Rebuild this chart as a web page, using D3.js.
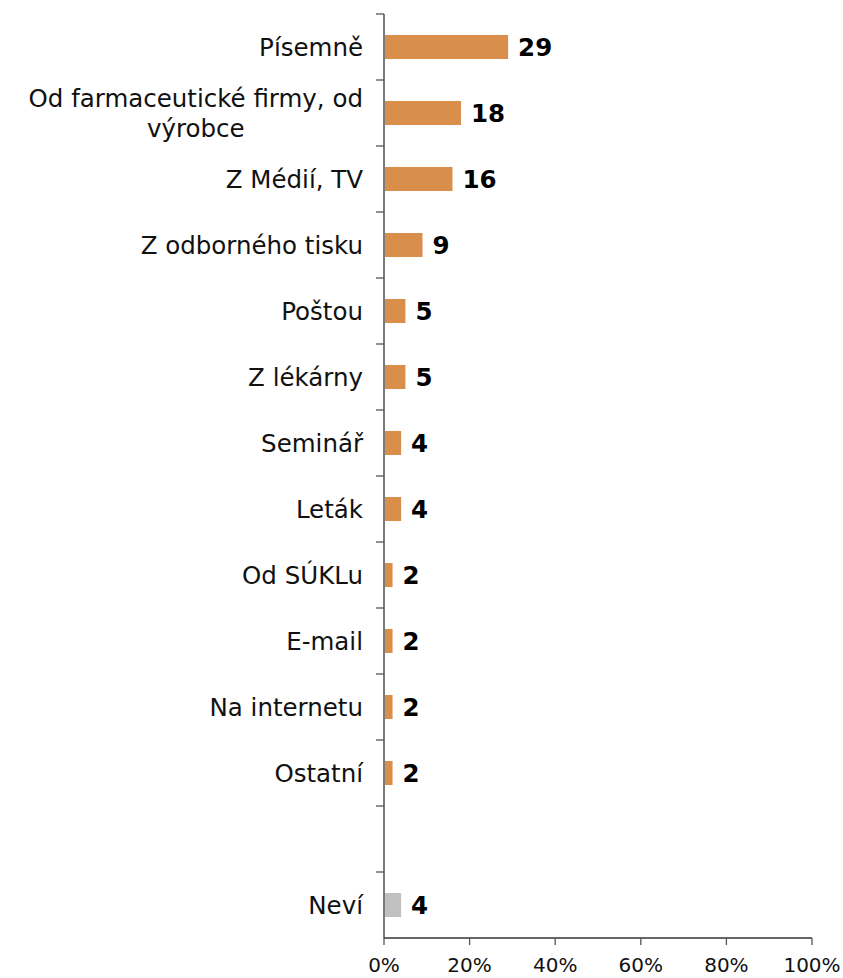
<!DOCTYPE html>
<html>
<head>
<meta charset="utf-8">
<script src="https://cdn.jsdelivr.net/npm/d3@7/dist/d3.min.js"></script>
<style>
  html, body { margin: 0; padding: 0; background: #fff; }
  svg { display: block; font-family: "DejaVu Sans", Verdana, sans-serif; }
</style>
</head>
<body>
<svg id="chart" width="843" height="978"></svg>
<script>
// Sources of information (percent of respondents); the empty slot separates "Neví"
const categories = [
  "Písemně",
  "Od farmaceutické firmy, od|výrobce",
  "Z Médií, TV",
  "Z odborného tisku",
  "Poštou",
  "Z lékárny",
  "Seminář",
  "Leták",
  "Od SÚKLu",
  "E-mail",
  "Na internetu",
  "Ostatní",
  "",
  "Neví"
];
const values = [29, 18, 16, 9, 5, 5, 4, 4, 2, 2, 2, 2, null, 4];
const xTicks = [0, 20, 40, 60, 80, 100];
const tickLabels = ["0%", "20%", "40%", "60%", "80%", "100%"];

const ORANGE = "#D98F4B";
const GREY = "#C0C0C0";

const svg = d3.select("#chart");
const margin = { left: 384, top: 14, right: 31 };
const W = 843;
const innerW = W - margin.left - margin.right;   // 428
const innerH = 938 - margin.top;                 // 924

const slots = categories.map((c, i) => i);
const y = d3.scaleBand().domain(slots).range([0, innerH]).paddingInner(0).paddingOuter(0);
const x = d3.scaleLinear().domain([0, 100]).range([0, innerW]);

const g = svg.append("g").attr("transform", `translate(${margin.left},${margin.top})`);

// bars
const rows = slots.filter(i => values[i] != null);
const barH = 24;
g.selectAll("rect.bar")
  .data(rows)
  .join("rect")
  .attr("class", "bar")
  .attr("x", 1)
  .attr("y", i => y(i) + y.bandwidth() / 2 - barH / 2)
  .attr("width", i => x(values[i]) - 1)
  .attr("height", barH)
  .attr("fill", i => categories[i] === "Neví" ? GREY : ORANGE);

// value labels
g.selectAll("text.val")
  .data(rows)
  .join("text")
  .attr("class", "val")
  .attr("x", i => x(values[i]) + 10)
  .attr("y", i => y(i) + y.bandwidth() / 2)
  .attr("dy", "0.36em")
  .attr("font-size", 24.5)
  .attr("font-weight", "bold")
  .attr("fill", "#000")
  .text(i => values[i]);

// y axis line and boundary ticks
g.append("line")
  .attr("x1", 0).attr("x2", 0)
  .attr("y1", 0).attr("y2", innerH)
  .attr("stroke", "#333").attr("stroke-width", 1.3);

const boundaries = d3.range(categories.length).map(i => y(i));
g.selectAll("line.ytick")
  .data(boundaries)
  .join("line")
  .attr("class", "ytick")
  .attr("x1", -8).attr("x2", 0)
  .attr("y1", d => d).attr("y2", d => d)
  .attr("stroke", "#555").attr("stroke-width", 1.3);

// category labels (multi-line where "|" marks the break)
const lineH = 30;
g.selectAll("text.cat")
  .data(slots.filter(i => categories[i] !== ""))
  .join("text")
  .attr("class", "cat")
  .attr("font-size", 24.5)
  .attr("fill", "#111")
  .each(function (i) {
    const lines = categories[i].split("|");
    const t = d3.select(this);
    const cy = y(i) + y.bandwidth() / 2;
    if (lines.length === 1) {
      t.attr("x", -21).attr("y", cy).attr("dy", "0.36em")
        .attr("text-anchor", "end").text(lines[0]);
    } else {
      // wrapped lines are centred on the widest line, which ends at the label edge
      const tmp = t.append("tspan").text(lines[0]);
      const w0 = tmp.node().getComputedTextLength();
      tmp.remove();
      const cx = -21 - w0 / 2;
      lines.forEach((ln, k) => {
        t.append("tspan")
          .attr("x", cx)
          .attr("y", cy + (k - (lines.length - 1) / 2) * lineH)
          .attr("dy", "0.36em")
          .attr("text-anchor", "middle")
          .text(ln);
      });
    }
  });

// x axis
const xg = g.append("g").attr("transform", `translate(0,${innerH})`);
xg.append("line")
  .attr("x1", 0).attr("x2", innerW)
  .attr("y1", 0).attr("y2", 0)
  .attr("stroke", "#333").attr("stroke-width", 1.3);
xg.selectAll("line.xtick")
  .data(xTicks)
  .join("line")
  .attr("class", "xtick")
  .attr("x1", d => x(d)).attr("x2", d => x(d))
  .attr("y1", 0).attr("y2", 7)
  .attr("stroke", "#555").attr("stroke-width", 1.3);
xg.selectAll("text.xlab")
  .data(xTicks)
  .join("text")
  .attr("class", "xlab")
  .attr("x", d => x(d))
  .attr("y", 34)
  .attr("text-anchor", "middle")
  .attr("font-size", 20)
  .attr("fill", "#111")
  .text((d, i) => tickLabels[i]);
</script>
</body>
</html>
